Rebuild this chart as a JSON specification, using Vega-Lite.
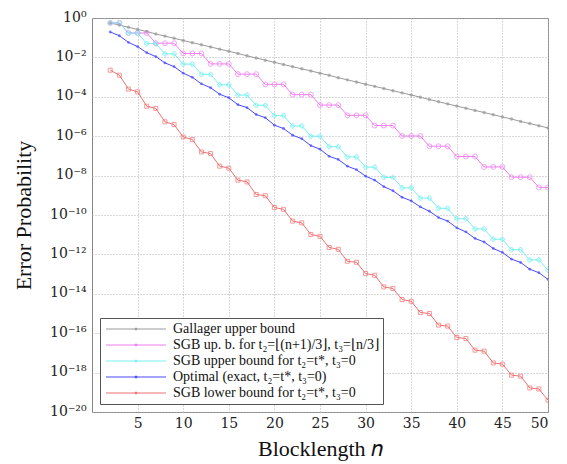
{
  "$schema": "https://vega.github.io/schema/vega-lite/v6.json",
  "autosize": {"type": "none"},
  "padding": {"left": 92, "top": 18, "right": 19, "bottom": 52},
  "width": 456,
  "height": 394,
  "background": "white",
  "config": {
    "view": {"stroke": "#888888", "strokeWidth": 1},
    "font": "Liberation Serif",
    "axis": {
      "labelFont": "DejaVu Serif",
      "titleFont": "Liberation Serif",
      "labelColor": "#222222",
      "titleColor": "#111111",
      "gridColor": "#b0b0b0",
      "gridDash": [1, 2],
      "gridWidth": 1,
      "domain": false,
      "tickColor": "#888888"
    },
    "legend": {"labelFont": "Liberation Serif"}
  },
  "datasets": {
    "err": [
      {"n":2,"G":-0.25,"M":-0.25,"C":-0.25,"O":-0.71,"L":-2.65},
      {"n":3,"G":-0.36,"M":-0.25,"C":-0.25,"O":-0.90,"L":-2.90},
      {"n":4,"G":-0.47,"M":-0.76,"C":-0.77,"O":-1.24,"L":-3.61},
      {"n":5,"G":-0.58,"M":-0.76,"C":-0.77,"O":-1.45,"L":-3.75},
      {"n":6,"G":-0.69,"M":-0.76,"C":-1.30,"O":-1.76,"L":-4.48},
      {"n":7,"G":-0.81,"M":-1.28,"C":-1.30,"O":-1.96,"L":-4.59},
      {"n":8,"G":-0.92,"M":-1.28,"C":-1.82,"O":-2.28,"L":-5.27},
      {"n":9,"G":-1.03,"M":-1.28,"C":-1.82,"O":-2.47,"L":-5.41},
      {"n":10,"G":-1.14,"M":-1.80,"C":-2.34,"O":-2.80,"L":-6.04},
      {"n":11,"G":-1.25,"M":-1.80,"C":-2.34,"O":-3.01,"L":-6.17},
      {"n":12,"G":-1.36,"M":-1.80,"C":-2.86,"O":-3.34,"L":-6.80},
      {"n":13,"G":-1.47,"M":-2.33,"C":-2.86,"O":-3.54,"L":-6.88},
      {"n":14,"G":-1.58,"M":-2.33,"C":-3.39,"O":-3.87,"L":-7.52},
      {"n":15,"G":-1.69,"M":-2.33,"C":-3.39,"O":-4.05,"L":-7.62},
      {"n":16,"G":-1.80,"M":-2.85,"C":-3.91,"O":-4.40,"L":-8.23},
      {"n":17,"G":-1.92,"M":-2.85,"C":-3.91,"O":-4.55,"L":-8.32},
      {"n":18,"G":-2.03,"M":-2.85,"C":-4.43,"O":-4.90,"L":-8.96},
      {"n":19,"G":-2.14,"M":-3.37,"C":-4.43,"O":-5.06,"L":-9.02},
      {"n":20,"G":-2.25,"M":-3.37,"C":-4.96,"O":-5.44,"L":-9.62},
      {"n":21,"G":-2.36,"M":-3.37,"C":-4.96,"O":-5.61,"L":-9.71},
      {"n":22,"G":-2.47,"M":-3.89,"C":-5.48,"O":-5.95,"L":-10.31},
      {"n":23,"G":-2.58,"M":-3.89,"C":-5.48,"O":-6.13,"L":-10.40},
      {"n":24,"G":-2.69,"M":-3.89,"C":-6.00,"O":-6.48,"L":-10.99},
      {"n":25,"G":-2.80,"M":-4.42,"C":-6.00,"O":-6.66,"L":-11.08},
      {"n":26,"G":-2.91,"M":-4.42,"C":-6.53,"O":-7.02,"L":-11.65},
      {"n":27,"G":-3.03,"M":-4.42,"C":-6.53,"O":-7.18,"L":-11.74},
      {"n":28,"G":-3.14,"M":-4.94,"C":-7.05,"O":-7.52,"L":-12.35},
      {"n":29,"G":-3.25,"M":-4.94,"C":-7.05,"O":-7.70,"L":-12.40},
      {"n":30,"G":-3.36,"M":-4.94,"C":-7.57,"O":-8.03,"L":-12.97},
      {"n":31,"G":-3.47,"M":-5.46,"C":-7.57,"O":-8.23,"L":-13.06},
      {"n":32,"G":-3.58,"M":-5.46,"C":-8.09,"O":-8.56,"L":-13.65},
      {"n":33,"G":-3.69,"M":-5.46,"C":-8.09,"O":-8.77,"L":-13.73},
      {"n":34,"G":-3.80,"M":-5.99,"C":-8.62,"O":-9.10,"L":-14.29},
      {"n":35,"G":-3.91,"M":-5.99,"C":-8.62,"O":-9.28,"L":-14.38},
      {"n":36,"G":-4.02,"M":-5.99,"C":-9.14,"O":-9.59,"L":-14.95},
      {"n":37,"G":-4.14,"M":-6.51,"C":-9.14,"O":-9.81,"L":-15.00},
      {"n":38,"G":-4.25,"M":-6.51,"C":-9.66,"O":-10.13,"L":-15.59},
      {"n":39,"G":-4.36,"M":-6.51,"C":-9.66,"O":-10.31,"L":-15.64},
      {"n":40,"G":-4.47,"M":-7.03,"C":-10.19,"O":-10.65,"L":-16.22},
      {"n":41,"G":-4.58,"M":-7.03,"C":-10.19,"O":-10.86,"L":-16.27},
      {"n":42,"G":-4.69,"M":-7.03,"C":-10.71,"O":-11.19,"L":-16.86},
      {"n":43,"G":-4.80,"M":-7.56,"C":-10.71,"O":-11.37,"L":-16.91},
      {"n":44,"G":-4.91,"M":-7.56,"C":-11.23,"O":-11.70,"L":-17.51},
      {"n":45,"G":-5.02,"M":-7.56,"C":-11.23,"O":-11.90,"L":-17.57},
      {"n":46,"G":-5.13,"M":-8.08,"C":-11.76,"O":-12.24,"L":-18.13},
      {"n":47,"G":-5.25,"M":-8.08,"C":-11.76,"O":-12.41,"L":-18.18},
      {"n":48,"G":-5.36,"M":-8.08,"C":-12.28,"O":-12.75,"L":-18.78},
      {"n":49,"G":-5.47,"M":-8.60,"C":-12.28,"O":-12.93,"L":-18.83},
      {"n":50,"G":-5.58,"M":-8.60,"C":-12.80,"O":-13.27,"L":-19.40}
    ]
  },
  "data": {"name": "err"},
  "transform": [
    {"fold": ["G", "M", "C", "O", "L"], "as": ["series", "log10P"]}
  ],
  "encoding": {
    "x": {
      "field": "n", "type": "quantitative",
      "scale": {"domain": [0, 50], "nice": false, "zero": false},
      "axis": {
        "values": [5, 10, 15, 20, 25, 30, 35, 40, 45, 50],
        "title": "Blocklength 𝑛",
        "titleFontSize": 22, "titleFontWeight": "normal", "titlePadding": 8,
        "labelFontSize": 14, "labelPadding": 4,
        "tickSize": 0, "grid": true
      }
    },
    "y": {
      "field": "log10P", "type": "quantitative",
      "scale": {"domain": [-20, 0], "nice": false, "zero": false},
      "axis": {
        "values": [0, -2, -4, -6, -8, -10, -12, -14, -16, -18, -20],
        "labelExpr": "['10⁰','10⁻²','10⁻⁴','10⁻⁶','10⁻⁸','10⁻¹⁰','10⁻¹²','10⁻¹⁴','10⁻¹⁶','10⁻¹⁸','10⁻²⁰'][round(-datum.value/2)]",
        "title": "Error Probability",
        "titleFontSize": 22, "titleFontWeight": "normal", "titlePadding": 14,
        "labelFontSize": 14, "labelPadding": 6, "labelBaseline": "bottom", "labelOffset": 6,
        "tickSize": 0, "grid": true
      }
    }
  },
  "layer": [
    {
      "mark": {"type": "line", "strokeWidth": 1, "clip": true},
      "encoding": {
        "color": {
          "field": "series", "type": "nominal",
          "scale": {
            "domain": ["G", "M", "C", "O", "L"],
            "range": ["#9a9a9a", "#f07cf0", "#78f0f0", "#4a4aff", "#f07070"]
          },
          "legend": {
            "orient": "bottom-left", "offset": 8, "title": null,
            "labelExpr": "['Gallager upper bound','SGB up. b. for t₂=⌊(n+1)/3⌋, t₃=⌊n/3⌋','SGB upper bound for t₂=t*, t₃=0','Optimal (exact, t₂=t*, t₃=0)','SGB lower bound for t₂=t*, t₃=0'][indexof(['G','M','C','O','L'], datum.value)]",
            "symbolType": "M-1,0H11M4.8,0A0.2,0.2 0 1 1 5.2,0A0.2,0.2 0 1 1 4.8,0",
            "symbolSize": 100, "symbolStrokeWidth": 1, "symbolFillColor": "transparent",
            "labelFontSize": 14, "labelColor": "#111111", "labelLimit": 320,
            "rowPadding": 2, "labelOffset": 55,
            "fillColor": "white", "strokeColor": "#555555", "padding": 4
          }
        }
      }
    },
    {
      "transform": [{"filter": "indexof(['M','C','L'], datum.series) >= 0"}],
      "mark": {"type": "point", "filled": false, "strokeWidth": 1, "clip": true},
      "encoding": {
        "color": {"field": "series", "type": "nominal", "legend": null},
        "shape": {
          "field": "series", "type": "nominal", "legend": null,
          "scale": {"domain": ["M", "C", "L"], "range": ["circle", "cross", "square"]}
        },
        "size": {
          "field": "series", "type": "nominal", "legend": null,
          "scale": {"domain": ["M", "C", "L"], "range": [24, 8, 16]}
        }
      }
    },
    {
      "transform": [{"filter": "indexof(['G','O'], datum.series) >= 0"}],
      "mark": {"type": "point", "filled": true, "shape": "circle", "clip": true},
      "encoding": {
        "color": {"field": "series", "type": "nominal", "legend": null},
        "size": {
          "field": "series", "type": "nominal", "legend": null,
          "scale": {"domain": ["G", "O"], "range": [4, 12]}
        }
      }
    }
  ]
}
